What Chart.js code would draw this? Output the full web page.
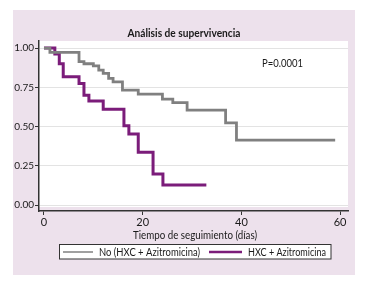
<!DOCTYPE html>
<html lang="es">
<head>
  <meta charset="UTF-8">
  <title>Análisis de supervivencia</title>
  <script src="https://cdn.jsdelivr.net/npm/chart.js"></script>
  <style>
    html, body { margin: 0; padding: 0; background: #fff; }
    #wrap { width: 373px; height: 284px; }
  </style>
</head>
<body>
  <div id="wrap"><canvas id="myChart" width="373" height="284"></canvas></div>

  <script>
    // Kaplan-Meier steps (time in days, survival)
    const grayTimes = [0, 1.2, 7.1, 8.1, 10, 11.1, 12, 13.1, 14, 15.9, 19.1, 24, 26.1, 29, 36.8, 39, 59];
    const graySurv  = [1, 0.972, 0.913, 0.90, 0.887, 0.86, 0.839, 0.807, 0.785, 0.732, 0.707, 0.675, 0.652, 0.605, 0.524, 0.414, 0.414];
    const purpleTimes = [0, 2.2, 3.1, 3.9, 7.1, 8.1, 9.1, 12, 16.2, 17.2, 19.1, 22.1, 24.1, 32.9];
    const purpleSurv  = [1, 0.962, 0.90, 0.817, 0.775, 0.70, 0.662, 0.611, 0.505, 0.452, 0.336, 0.197, 0.127, 0.127];

    const seriesNames = ["No (HXC + Azitromicina)", "HXC + Azitromicina"];
    const xTicks = [0, 20, 40, 60];
    const yTicks = [0, 0.25, 0.5, 0.75, 1];
    const titleText = "Análisis de supervivencia";
    const xTitle = "Tiempo de seguimiento (días)";
    const pText = "P=0.0001";

    const grayColor = "#808080";
    const purpleColor = "#7b1c7a";
    const fontFam = "Lato, 'DejaVu Sans', sans-serif";
    Chart.defaults.font.family = fontFam;

    const toPoints = (ts, ss) => ts.map((t, i) => ({ x: t, y: ss[i] }));

    // panel, white plot area, title, p-value, axis title, framed legend
    const decor = {
      id: "decor",
      beforeDraw(chart) {
        const c = chart.ctx;
        c.save();
        c.fillStyle = "#ffffff";
        c.fillRect(0, 0, chart.width, chart.height);
        c.fillStyle = "#ede1ec";
        c.fillRect(13, 10, 342, 265);
        const a = chart.chartArea;
        c.fillStyle = "#ffffff";
        c.fillRect(a.left, a.top, a.right - a.left, a.bottom - 4 - a.top);
        c.restore();
      },
      afterDraw(chart) {
        const c = chart.ctx;
        c.save();
        c.fillStyle = "#1a1a1a";
        c.textBaseline = "middle";
        c.textAlign = "center";
        c.font = "bold 11.5px " + fontFam;
        c.fillText(titleText, 184, 33, 113);
        c.font = "12px " + fontFam;
        c.fillText(xTitle, 195, 235, 124);
        c.textAlign = "left";
        c.font = "10.5px " + fontFam;
        c.fillText(pText, 262, 64, 41);

        // legend box
        c.fillStyle = "#ffffff";
        c.fillRect(59.5, 244.5, 271.5, 14.5);
        c.strokeStyle = "#333333";
        c.lineWidth = 1;
        c.strokeRect(59.5, 244.5, 271.5, 14.5);
        const ly = 252;
        c.lineWidth = 1.5;
        c.strokeStyle = grayColor;
        c.beginPath(); c.moveTo(63, ly); c.lineTo(93, ly); c.stroke();
        c.lineWidth = 2.5;
        c.strokeStyle = purpleColor;
        c.beginPath(); c.moveTo(209, ly); c.lineTo(242, ly); c.stroke();
        c.fillStyle = "#1a1a1a";
        c.font = "11px " + fontFam;
        c.fillText(seriesNames[0], 99, ly, 101);
        c.fillText(seriesNames[1], 248, ly, 78);
        c.restore();
      }
    };

    new Chart(document.getElementById("myChart").getContext("2d"), {
      type: "line",
      data: {
        datasets: [
          {
            label: seriesNames[0],
            data: toPoints(grayTimes, graySurv),
            borderColor: grayColor,
            borderWidth: 2.8,
            stepped: true,
            pointRadius: 0,
            fill: false,
            borderJoinStyle: "miter",
            borderCapStyle: "butt"
          },
          {
            label: seriesNames[1],
            data: toPoints(purpleTimes, purpleSurv),
            borderColor: purpleColor,
            borderWidth: 3,
            stepped: true,
            pointRadius: 0,
            fill: false,
            borderJoinStyle: "miter",
            borderCapStyle: "butt"
          }
        ]
      },
      options: {
        responsive: false,
        animation: false,
        layout: { padding: { top: 41, right: 25, bottom: 0, left: 0 } },
        plugins: {
          legend: { display: false },
          tooltip: { enabled: false },
          title: { display: false }
        },
        scales: {
          x: {
            type: "linear",
            min: -1.01,
            max: 61.6,
            afterFit(s) { s.height = 73; },
            afterBuildTicks(s) { s.ticks = xTicks.map(v => ({ value: v })); },
            grid: { display: true, drawOnChartArea: false, drawTicks: true, tickLength: 4, tickColor: "#333333" },
            border: { display: true, color: "#333333", width: 1.5 },
            ticks: { color: "#1a1a1a", font: { size: 11 }, padding: 1, maxRotation: 0 }
          },
          y: {
            type: "linear",
            min: -0.038,
            max: 1.045,
            afterFit(s) { s.width = 39; },
            afterBuildTicks(s) { s.ticks = yTicks.map(v => ({ value: v })); },
            grid: { color: "#e3e3e3", lineWidth: 1, drawTicks: true, tickLength: 4, tickColor: "#333333" },
            border: { display: true, color: "#333333", width: 1.5 },
            ticks: {
              color: "#1a1a1a",
              font: { size: 10 },
              padding: 1,
              callback: v => v.toFixed(2)
            }
          }
        }
      },
      plugins: [decor]
    });
  </script>
</body>
</html>
